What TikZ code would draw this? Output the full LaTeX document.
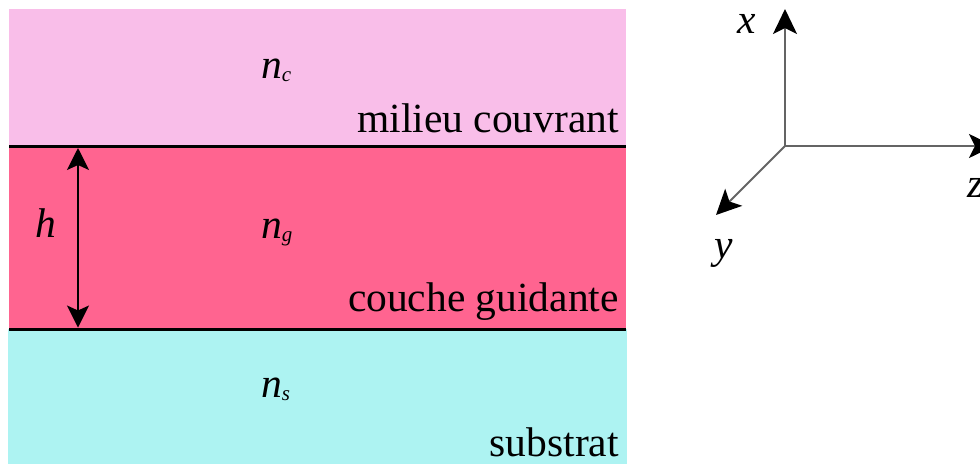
\documentclass[tikz,border=0pt]{standalone}
\usepackage{fontspec}
\setmainfont{Liberation Serif}
\usetikzlibrary{arrows.meta}
\definecolor{cladcol}{RGB}{249,190,233}
\definecolor{guidecol}{RGB}{255,100,144}
\definecolor{substcol}{RGB}{173,243,242}
\definecolor{axiscol}{RGB}{100,100,100}
\tikzset{
  lbl/.style={inner sep=0pt, font=\fontsize{41.5}{48}\selectfont},
  interface/.style={line width=3pt, black},
  axisarrow/.style={line width=1.8pt, axiscol, -{Stealth[length=25pt, width=24pt, inset=6pt, black]}},
  harrow/.style={line width=1.5pt, black, {Stealth[length=22pt, width=22pt, inset=5pt]}-{Stealth[length=22pt, width=22pt, inset=5pt]}}
}
\newcommand{\idx}[2]{\textit{#1}\raisebox{-0.08em}{\fontsize{21}{24}\selectfont\textit{#2}}}
\begin{document}
\begin{tikzpicture}[x=1pt,y=-1pt]
\useasboundingbox (0,0) rectangle (980,464);
% layers
\fill[cladcol] (9,9) rectangle (626,146);
\fill[guidecol] (9,146) rectangle (626,329);
\fill[substcol] (8,329) rectangle (627,464);
\coordinate (t1) at (9,146);
\coordinate (t2) at (626,146);
\coordinate (b1) at (9,329);
\coordinate (b2) at (626,329);
\draw[interface] (t1) -- (t2);
\draw[interface] (b1) -- (b2);
% thickness arrow
\coordinate (ht) at (78,148);
\coordinate (hb) at (78,327.5);
\draw[harrow] (ht) -- (hb);
\node[lbl, anchor=base west] (h) at (35,237) {\textit{h}};
% indices
\node[lbl, anchor=base west] (nc) at (261,78) {\idx{n}{c}};
\node[lbl, anchor=base west] (ng) at (261,238) {\idx{n}{g}};
\node[lbl, anchor=base west] (ns) at (261,397) {\idx{n}{s}};
% layer names
\node[lbl, anchor=base east] (mc) at (619,132) {milieu couvrant};
\node[lbl, anchor=base east] (cg) at (619,311) {couche guidante};
\node[lbl, anchor=base east] (su) at (619,456) {substrat};
% axes
\coordinate (O) at (785,146);
\coordinate (X) at (785,9);
\coordinate (Z) at (994,146);
\coordinate (Y) at (716,215);
\draw[axisarrow] (O) -- (X);
\draw[axisarrow] (O) -- (Z);
\draw[axisarrow] (O) -- (Y);
\node[lbl, anchor=base west] (xl) at (737,33) {\textit{x}};
\node[lbl, anchor=base west] (yl) at (714,258) {\textit{y}};
\node[lbl, anchor=base west] (zl) at (967,197) {\textit{z}};
\end{tikzpicture}
\end{document}
